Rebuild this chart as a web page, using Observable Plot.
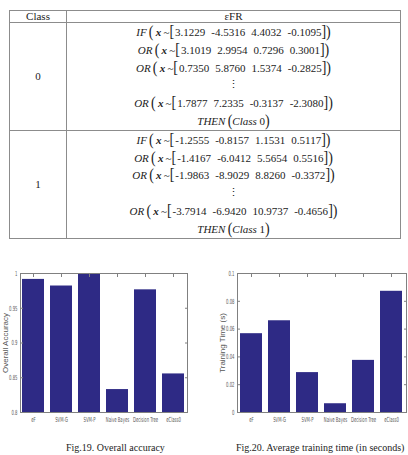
<!DOCTYPE html>
<html>
<head>
<meta charset="utf-8">
<script src="https://cdn.jsdelivr.net/npm/d3@7"></script>
<script src="https://cdn.jsdelivr.net/npm/@observablehq/plot@0.6"></script>
<style>
  body { margin: 0; background: #fff; }
  #page { position: relative; width: 408px; height: 455px; overflow: hidden;
          font-family: "Liberation Serif", "Times New Roman", serif; color: #1c1c1c; }
  table.rules { position: absolute; left: 9px; top: 10px; width: 392px;
                border-collapse: collapse; font-size: 11px; }
  table.rules th, table.rules td { border: 1px solid #8c8c8c; padding: 0;
                text-align: center; font-weight: normal; }
  table.rules th { height: 11px; line-height: 11px; font-size: 11px; }
  table.rules td.cls { width: 56px; }
  .line { height: 17.8px; line-height: 17.8px; white-space: nowrap; }
  .br { font-size: 14px; display: inline-block; transform: scaleY(1.15); }
  .vec { display: inline-block; }
  .num { display: inline-block; margin-left: 6px; }
  .num:first-child { margin-left: 1px; }
  .chart { position: absolute; top: 263px; }
  .caption { position: absolute; top: 442px; font-size: 10px; white-space: nowrap; }
</style>
</head>
<body>
<div id="page">
  <table class="rules" id="rules"></table>
  <div class="chart" id="acc" style="left:0px"></div>
  <div class="chart" id="time" style="left:204px"></div>
  <div class="caption" style="left:66px">Fig.19. Overall accuracy</div>
  <div class="caption" style="left:236px">Fig.20. Average training time (in seconds)</div>
</div>
<script>
// Fuzzy rules of the evolving classifier, one list of prototypes per class
const ruleClasses = [0, 1];
const class0Prototypes = [
  [3.1229, -4.5316, 4.4032, -0.1095],
  [3.1019, 2.9954, 0.7296, 0.3001],
  [0.7350, 5.8760, 1.5374, -0.2825],
  null,
  [1.7877, 7.2335, -0.3137, -2.3080]
];
const class1Prototypes = [
  [-1.2555, -0.8157, 1.1531, 0.5117],
  [-1.4167, -6.0412, 5.5654, 0.5516],
  [-1.9863, -8.9029, 8.8260, -0.3372],
  null,
  [-3.7914, -6.9420, 10.9737, -0.4656]
];

// Classifier comparison
const classifiers = ["eF", "SVM-G", "SVM-P", "Naive Bayes", "Decision Tree", "eClass0"];
const accuracy = [0.9915, 0.982, 1.0, 0.833, 0.9765, 0.8555];
const trainingTime = [0.0567, 0.0660, 0.0287, 0.0063, 0.0375, 0.0872];
const accuracyTicks = [0.8, 0.85, 0.9, 0.95, 1];
const timeTicks = [0, 0.02, 0.04, 0.06, 0.08, 0.1];

// ---- rule table ----
function ruleLine(keyword, proto) {
  const nums = proto.map(v => `<span class="num">${v.toFixed(4)}</span>`).join("");
  return `<div class="line"><i>${keyword}</i>&thinsp;<span class="br">(</span>&thinsp;<b><i>x</i></b>&thinsp;~<span class="br">[</span><span class="vec">${nums}</span><span class="br">])</span></div>`;
}
function ruleBlock(cls, protos) {
  const lines = protos.map((p, i) =>
    p === null ? `<div class="line">&#8942;</div>` : ruleLine(i === 0 ? "IF" : "OR", p)
  ).join("");
  return lines + `<div class="line"><i>THEN</i>&thinsp;<span class="br">(</span><i>Class</i> ${cls}<span class="br">)</span></div>`;
}
const table = document.getElementById("rules");
table.innerHTML =
  `<tr><th>Class</th><th>&#949;FR</th></tr>` +
  [class0Prototypes, class1Prototypes].map((protos, k) =>
    `<tr><td class="cls">${ruleClasses[k]}</td><td>${ruleBlock(ruleClasses[k], protos)}</td></tr>`
  ).join("");

// ---- bar charts ----
const tickFont = `"DejaVu Sans Condensed", "Liberation Sans Narrow", sans-serif`;

function barChart(values, ticks, label, marginLeft, marginRight) {
  const data = classifiers.map((name, i) => ({name, value: values[i]}));
  const base = ticks[0];
  return Plot.plot({
    width: 204,
    height: 170,
    marginTop: 10,
    marginBottom: 21,
    marginLeft,
    marginRight,
    style: {fontFamily: tickFont, fontSize: "7px", color: "#5a5a5a", background: "transparent", overflow: "visible"},
    x: {domain: classifiers, paddingInner: 0.2, paddingOuter: 0.05, label: null},
    y: {domain: [ticks[0], ticks[ticks.length - 1]], label: null},
    marks: [
      Plot.barY(data, {x: "name", y1: () => base, y2: "value", fill: "#2e2a85"}),
      Plot.frame({stroke: "#808080", strokeWidth: 1}),
      Plot.axisY(ticks, {anchor: "left", tickSize: -3, tickPadding: 6, tickFormat: d => `${d}`, label: null, stroke: "#808080"}),
      Plot.axisY(ticks, {anchor: "right", tickSize: -3, tickFormat: () => "", label: null, stroke: "#808080"}),
      Plot.axisX({anchor: "bottom", tickSize: 0, tickPadding: 5, label: null}),
      Plot.axisX({anchor: "top", tickSize: -3, tickFormat: () => "", label: null, stroke: "#808080"}),
      Plot.text([label], {frameAnchor: "left", rotate: -90, dx: -15, text: d => d,
        fontFamily: `"Liberation Sans", Arial, sans-serif`, fontSize: 8, fill: "#555", textAnchor: "middle"})
    ]
  });
}

// tick labels are set in a narrow face: squeeze each one horizontally about its anchor
function narrowTickLabels(svg, factor) {
  svg.querySelectorAll('g[aria-label="x-axis tick label"] text, g[aria-label="y-axis tick label"] text')
    .forEach(t => {
      const x = +(t.getAttribute("x") || 0);
      const prev = t.getAttribute("transform") || "";
      t.setAttribute("transform", `${prev} translate(${x},0) scale(${factor},1) translate(${-x},0)`);
    });
}

const accChart = barChart(accuracy, accuracyTicks, "Overall Accuracy", 20, 17);
document.getElementById("acc").append(accChart);
narrowTickLabels(accChart, 0.6);

const timeChart = barChart(trainingTime, timeTicks, "Training Time (s)", 33, 2);
document.getElementById("time").append(timeChart);
narrowTickLabels(timeChart, 0.6);
</script>
</body>
</html>
